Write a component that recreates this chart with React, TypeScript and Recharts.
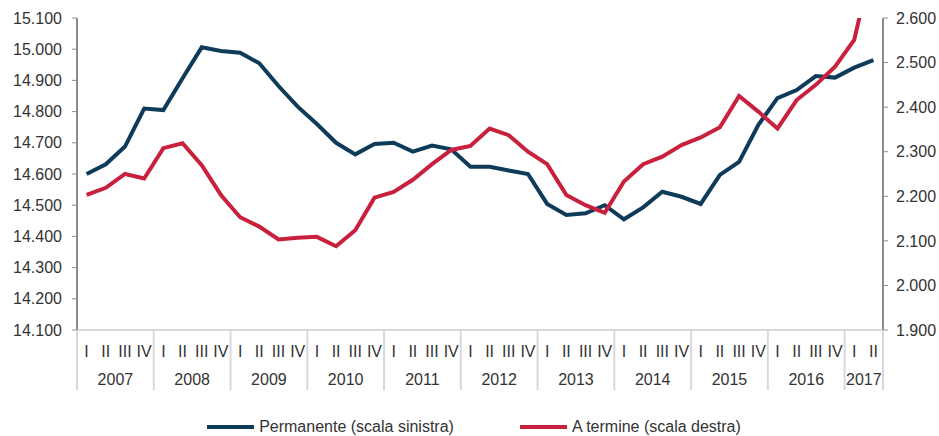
import { LineChart, Line, XAxis, YAxis, Legend } from 'recharts';

const years = ['2007', '2008', '2009', '2010', '2011', '2012', '2013', '2014', '2015', '2016', '2017'];
const quarterNames = ['I', 'II', 'III', 'IV'];
const quartersIn2017 = 2;

// migliaia, scala sinistra
const permanente = [
  14.600, 14.631, 14.688, 14.810, 14.805, 14.907, 15.006, 14.994, 14.989, 14.955, 14.882, 14.816,
  14.760, 14.700, 14.663, 14.696, 14.700, 14.672, 14.691, 14.679, 14.623, 14.623, 14.611, 14.600,
  14.504, 14.469, 14.474, 14.500, 14.455, 14.493, 14.543, 14.527, 14.504, 14.597, 14.639, 14.757,
  14.843, 14.869, 14.914, 14.909, 14.941, 14.965,
];

// migliaia, scala destra
const aTermine = [
  2.203, 2.219, 2.250, 2.240, 2.308, 2.319, 2.270, 2.203, 2.153, 2.132, 2.103, 2.107,
  2.109, 2.088, 2.124, 2.197, 2.210, 2.237, 2.272, 2.304, 2.313, 2.352, 2.337, 2.300,
  2.272, 2.203, 2.180, 2.163, 2.233, 2.272, 2.289, 2.315, 2.332, 2.355, 2.425, 2.390,
  2.352, 2.416, 2.450, 2.491, 2.551, 2.735,
];

const leftTicks = [14.1, 14.2, 14.3, 14.4, 14.5, 14.6, 14.7, 14.8, 14.9, 15.0, 15.1];
const rightTicks = [1.9, 2.0, 2.1, 2.2, 2.3, 2.4, 2.5, 2.6];

const rows = years.flatMap((year, yi) => {
  const qs = yi === years.length - 1 ? quarterNames.slice(0, quartersIn2017) : quarterNames;
  return qs.map((q) => ({ key: `${year}-${q}`, year, q, nInYear: qs.length }));
}).map((r, i) => ({ ...r, permanente: permanente[i], aTermine: aTermine[i] }));

const FONT = '"Liberation Sans", Arial, sans-serif';
const BLUE = '#0f3b5a';
const RED = '#c8203d';
const AXIS = '#8c8c8c';
const GRID = '#d9d9d9';
const TEXT = '#333333';
const FS = 16;

const WIDTH = 939;
const HEIGHT = 436;
const LEFT_W = 77;
const RIGHT_W = 56;
const PLOT_W = WIDTH - LEFT_W - RIGHT_W;
const step = PLOT_W / rows.length;

const fmt = (v: number) => v.toFixed(3);

const QuarterTick = (props: any) => {
  const { x, y, payload } = props;
  const row = rows[payload.index];
  if (!row) return null;
  const left = x - step / 2;
  const isLast = payload.index === rows.length - 1;
  return (
    <g>
      <text x={x} y={y + 27} textAnchor="middle" fill={TEXT} fontSize={FS} fontFamily={FONT}>
        {row.q}
      </text>
      {row.q === 'I' && (
        <>
          <line x1={left} x2={left} y1={y} y2={y + 60} stroke={GRID} strokeWidth={2} />
          <text
            x={left + (row.nInYear * step) / 2}
            y={y + 55}
            textAnchor="middle"
            fill={TEXT}
            fontSize={FS}
            fontFamily={FONT}
          >
            {row.year}
          </text>
        </>
      )}
      {isLast && (
        <line x1={x + step / 2} x2={x + step / 2} y1={y} y2={y + 60} stroke={GRID} strokeWidth={2} />
      )}
    </g>
  );
};

const LegendItem = ({ color, label }: { color: string; label: string }) => (
  <div style={{ display: 'flex', alignItems: 'center' }}>
    <div style={{ width: 47, height: 4, background: color, marginRight: 5 }} />
    <span style={{ fontSize: FS, color: TEXT, fontFamily: FONT }}>{label}</span>
  </div>
);

const renderLegend = () => (
  <div
    style={{
      display: 'flex',
      justifyContent: 'center',
      alignItems: 'flex-end',
      height: 46,
      gap: 66,
      paddingLeft: 9,
    }}
  >
    <LegendItem color={BLUE} label="Permanente (scala sinistra)" />
    <LegendItem color={RED} label="A termine (scala destra)" />
  </div>
);

export default function App() {
  return (
    <div style={{ position: 'absolute', left: 0, top: 0, background: '#fff' }}>
      <LineChart width={WIDTH} height={HEIGHT} data={rows} margin={{ top: 18, right: 0, bottom: 0, left: 0 }}>
        <XAxis
          dataKey="key"
          height={60}
          interval={0}
          padding={{ left: step / 2, right: step / 2 }}
          tickSize={0}
          tickMargin={0}
          tickLine={false}
          axisLine={{ stroke: GRID, strokeWidth: 2 }}
          tick={<QuarterTick />}
        />
        <YAxis
          yAxisId="left"
          width={LEFT_W}
          domain={[14.1, 15.1]}
          ticks={leftTicks}
          tickFormatter={fmt}
          tickSize={5}
          tickMargin={10}
          axisLine={{ stroke: AXIS, strokeWidth: 2 }}
          tickLine={{ stroke: AXIS }}
          tick={{ fill: TEXT, fontSize: FS, fontFamily: FONT }}
        />
        <YAxis
          yAxisId="right"
          orientation="right"
          width={RIGHT_W}
          domain={[1.9, 2.6]}
          ticks={rightTicks}
          allowDataOverflow
          tickFormatter={fmt}
          tickSize={5}
          tickMargin={8}
          axisLine={{ stroke: AXIS, strokeWidth: 2 }}
          tickLine={{ stroke: AXIS }}
          tick={{ fill: TEXT, fontSize: FS, fontFamily: FONT }}
        />
        <Legend verticalAlign="bottom" height={46} content={renderLegend} />
        <Line
          yAxisId="left"
          dataKey="permanente"
          name="Permanente (scala sinistra)"
          stroke={BLUE}
          strokeWidth={4}
          dot={false}
          type="linear"
          isAnimationActive={false}
        />
        <Line
          yAxisId="right"
          dataKey="aTermine"
          name="A termine (scala destra)"
          stroke={RED}
          strokeWidth={4}
          dot={false}
          type="linear"
          isAnimationActive={false}
        />
      </LineChart>
    </div>
  );
}
